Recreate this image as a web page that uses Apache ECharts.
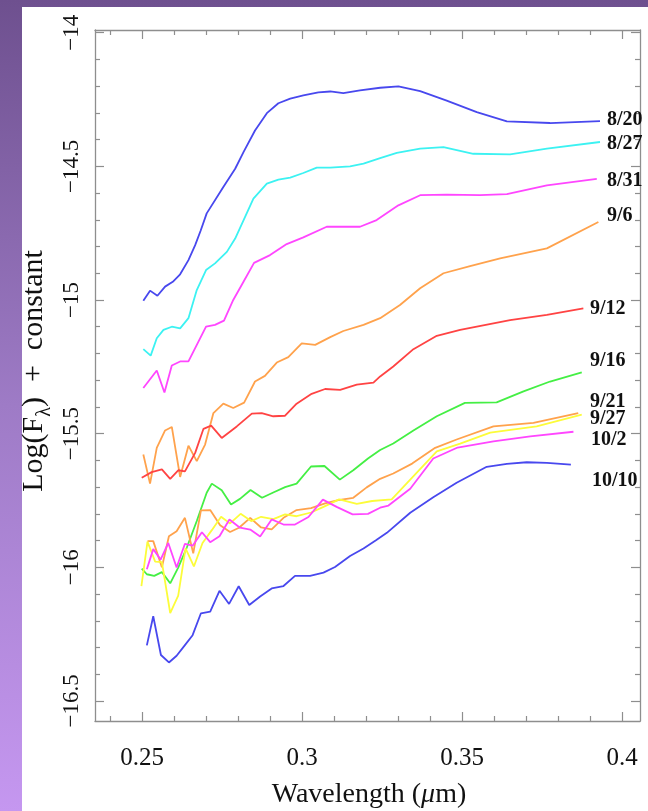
<!DOCTYPE html>
<html>
<head>
<meta charset="utf-8">
<script src="https://cdn.jsdelivr.net/npm/echarts@6/dist/echarts.min.js"></script>
<style>
  html, body { margin: 0; padding: 0; width: 648px; height: 811px; overflow: hidden; }
  body { position: relative; background: linear-gradient(180deg, #6e508f 0%, #9e7bc6 50%, #c597f0 100%); }
  #panel { position: absolute; left: 22px; top: 7px; right: 0; bottom: 0; background: #ffffff; }
  #chart { position: absolute; left: 0; top: 0; width: 648px; height: 811px; }
</style>
</head>
<body>
<div id="panel"></div>
<div id="chart"></div>
<script>
// Spectra: [wavelength (um), log flux + constant]
const aug20 = [[0.2504,-15.003],[0.2525,-14.965],[0.2548,-14.984],[0.2572,-14.950],[0.2596,-14.932],[0.2619,-14.904],[0.2645,-14.851],[0.2666,-14.795],[0.2683,-14.741],[0.2702,-14.676],[0.2754,-14.577],[0.2791,-14.509],[0.2817,-14.447],[0.2853,-14.366],[0.2890,-14.301],[0.2926,-14.264],[0.2963,-14.247],[0.3004,-14.235],[0.3051,-14.223],[0.3088,-14.220],[0.3129,-14.226],[0.3181,-14.216],[0.3244,-14.206],[0.3301,-14.201],[0.3369,-14.219],[0.3452,-14.254],[0.3546,-14.297],[0.3640,-14.332],[0.3775,-14.338],[0.3931,-14.331]];
const aug27 = [[0.2504,-15.184],[0.2527,-15.208],[0.2546,-15.143],[0.2567,-15.112],[0.2593,-15.100],[0.2619,-15.106],[0.2645,-15.068],[0.2671,-14.963],[0.2700,-14.888],[0.2728,-14.863],[0.2765,-14.820],[0.2791,-14.770],[0.2848,-14.621],[0.2890,-14.565],[0.2926,-14.550],[0.2963,-14.542],[0.3004,-14.525],[0.3046,-14.505],[0.3088,-14.505],[0.3150,-14.500],[0.3192,-14.490],[0.3244,-14.469],[0.3296,-14.450],[0.3369,-14.434],[0.3442,-14.428],[0.3535,-14.453],[0.3650,-14.455],[0.3765,-14.434],[0.3931,-14.409]];
const aug31 = [[0.2504,-15.329],[0.2546,-15.264],[0.2570,-15.346],[0.2593,-15.245],[0.2619,-15.230],[0.2645,-15.230],[0.2700,-15.100],[0.2728,-15.093],[0.2756,-15.077],[0.2785,-15.000],[0.2817,-14.932],[0.2850,-14.861],[0.2900,-14.832],[0.2952,-14.791],[0.3004,-14.766],[0.3077,-14.726],[0.3181,-14.726],[0.3233,-14.701],[0.3301,-14.646],[0.3369,-14.608],[0.3452,-14.606],[0.3556,-14.608],[0.3640,-14.604],[0.3765,-14.571],[0.3921,-14.547]];
const sep6 = [[0.2504,-15.578],[0.2525,-15.687],[0.2546,-15.553],[0.2572,-15.488],[0.2593,-15.475],[0.2619,-15.662],[0.2645,-15.545],[0.2671,-15.603],[0.2697,-15.541],[0.2723,-15.423],[0.2754,-15.388],[0.2785,-15.404],[0.2819,-15.384],[0.2853,-15.305],[0.2884,-15.284],[0.2921,-15.234],[0.2957,-15.214],[0.2999,-15.162],[0.3041,-15.168],[0.3088,-15.139],[0.3129,-15.116],[0.3192,-15.093],[0.3244,-15.068],[0.3306,-15.019],[0.3369,-14.956],[0.3442,-14.900],[0.3525,-14.873],[0.3619,-14.844],[0.3765,-14.807],[0.3926,-14.708]];
const sep12 = [[0.2499,-15.665],[0.2530,-15.644],[0.2562,-15.634],[0.2588,-15.669],[0.2613,-15.637],[0.2634,-15.641],[0.2666,-15.572],[0.2692,-15.482],[0.2716,-15.470],[0.2749,-15.516],[0.2796,-15.473],[0.2843,-15.425],[0.2874,-15.423],[0.2910,-15.435],[0.2947,-15.433],[0.2983,-15.388],[0.3030,-15.351],[0.3072,-15.333],[0.3119,-15.336],[0.3171,-15.317],[0.3223,-15.309],[0.3244,-15.286],[0.3285,-15.249],[0.3348,-15.184],[0.3421,-15.134],[0.3494,-15.112],[0.3650,-15.075],[0.3765,-15.056],[0.3879,-15.031]];
const sep16 = [[0.2499,-16.005],[0.2515,-16.026],[0.2538,-16.032],[0.2562,-16.018],[0.2588,-16.060],[0.2613,-16.001],[0.2640,-15.926],[0.2671,-15.827],[0.2702,-15.721],[0.2718,-15.687],[0.2749,-15.712],[0.2778,-15.765],[0.2806,-15.744],[0.2839,-15.711],[0.2875,-15.740],[0.2910,-15.720],[0.2947,-15.700],[0.2983,-15.687],[0.3028,-15.623],[0.3070,-15.621],[0.3118,-15.672],[0.3160,-15.637],[0.3206,-15.593],[0.3244,-15.561],[0.3285,-15.537],[0.3348,-15.488],[0.3421,-15.435],[0.3509,-15.385],[0.3608,-15.383],[0.3692,-15.342],[0.3775,-15.305],[0.3874,-15.271]];
const sep21 = [[0.2517,-15.902],[0.2535,-15.902],[0.2562,-16.000],[0.2584,-15.884],[0.2608,-15.865],[0.2634,-15.815],[0.2660,-15.948],[0.2684,-15.787],[0.2713,-15.786],[0.2744,-15.843],[0.2775,-15.868],[0.2803,-15.852],[0.2838,-15.815],[0.2872,-15.851],[0.2905,-15.858],[0.2942,-15.815],[0.2983,-15.786],[0.3028,-15.779],[0.3072,-15.761],[0.3113,-15.749],[0.3160,-15.740],[0.3202,-15.701],[0.3244,-15.669],[0.3285,-15.649],[0.3344,-15.612],[0.3416,-15.553],[0.3483,-15.522],[0.3598,-15.473],[0.3723,-15.460],[0.3863,-15.423]];
const sep27 = [[0.2498,-16.070],[0.2517,-15.904],[0.2541,-15.979],[0.2562,-15.981],[0.2588,-16.171],[0.2613,-16.106],[0.2636,-15.929],[0.2662,-15.997],[0.2689,-15.909],[0.2718,-15.861],[0.2747,-15.811],[0.2775,-15.836],[0.2808,-15.800],[0.2841,-15.827],[0.2872,-15.811],[0.2910,-15.820],[0.2947,-15.802],[0.2983,-15.809],[0.3028,-15.795],[0.3067,-15.774],[0.3116,-15.746],[0.3171,-15.763],[0.3219,-15.752],[0.3280,-15.746],[0.3338,-15.672],[0.3421,-15.566],[0.3494,-15.537],[0.3588,-15.496],[0.3733,-15.473],[0.3874,-15.429]];
const oct2 = [[0.2515,-16.007],[0.2535,-15.932],[0.2558,-15.971],[0.2582,-15.909],[0.2608,-16.001],[0.2634,-15.912],[0.2658,-15.919],[0.2687,-15.869],[0.2713,-15.906],[0.2742,-15.884],[0.2773,-15.821],[0.2806,-15.852],[0.2838,-15.859],[0.2869,-15.885],[0.2905,-15.821],[0.2942,-15.840],[0.2978,-15.840],[0.3020,-15.812],[0.3065,-15.747],[0.3108,-15.774],[0.3158,-15.802],[0.3206,-15.800],[0.3244,-15.777],[0.3270,-15.769],[0.3338,-15.706],[0.3410,-15.593],[0.3486,-15.552],[0.3598,-15.529],[0.3713,-15.510],[0.3848,-15.493]];
const oct10 = [[0.2515,-16.292],[0.2535,-16.183],[0.2559,-16.328],[0.2584,-16.356],[0.2608,-16.331],[0.2634,-16.291],[0.2658,-16.254],[0.2684,-16.172],[0.2713,-16.166],[0.2742,-16.088],[0.2772,-16.137],[0.2802,-16.071],[0.2835,-16.141],[0.2869,-16.109],[0.2905,-16.079],[0.2942,-16.070],[0.2978,-16.032],[0.3025,-16.032],[0.3067,-16.020],[0.3103,-15.999],[0.3150,-15.958],[0.3192,-15.930],[0.3231,-15.899],[0.3265,-15.871],[0.3338,-15.796],[0.3410,-15.738],[0.3483,-15.684],[0.3577,-15.624],[0.3640,-15.613],[0.3702,-15.607],[0.3765,-15.609],[0.3840,-15.616]];

const dates = ['8/20', '8/27', '8/31', '9/6', '9/12', '9/16', '9/21', '9/27', '10/2', '10/10'];
const spectra = [aug20, aug27, aug31, sep6, sep12, sep16, sep21, sep27, oct2, oct10];
const lineColors = ['#4848ee', '#3cf2f2', '#ff46ff', '#ffa24c', '#ff4343', '#44ef44', '#ffa24c', '#fcfc3a', '#ff46ff', '#4848ee'];

// Tick values
const xMajorTicks = [0.25, 0.3, 0.35, 0.4];
const xMinorTicks = [0.24, 0.26, 0.27, 0.28, 0.29, 0.31, 0.32, 0.33, 0.34, 0.36, 0.37, 0.38, 0.39];
const yMajorTicks = [-16.5, -16, -15.5, -15, -14.5, -14];
const yMinorTicks = [-16.4, -16.3, -16.2, -16.1, -15.9, -15.8, -15.7, -15.6, -15.4, -15.3, -15.2, -15.1,
                     -14.9, -14.8, -14.7, -14.6, -14.4, -14.3, -14.2, -14.1];

// Label anchors for each date (left edge x, centre y in px)
const labelSpots = [[607,120],[607,144],[607,181],[607,216],[590,309],[590,361],[590,402],[590,419],[591,440],[592,481]];

const X_MIN = 0.2353, X_MAX = 0.4056;
const Y_MIN = -16.575, Y_MAX = -13.99;
const FRAME = '#8e8e8e';
const SERIF = '"Liberation Serif", "DejaVu Serif", serif';
const INK = '#111111';

function minusFmt(v) {
  const s = String(Math.round(v * 100) / 100);
  return s.replace('-', '\u2212');
}

function xAxisDef(position, ticks, len, withLabels, withLine) {
  return {
    type: 'value', position: position, min: X_MIN, max: X_MAX,
    axisLine: { show: withLine, onZero: false, lineStyle: { color: FRAME, width: 1.3 } },
    axisTick: { show: true, inside: true, length: len, customValues: ticks, lineStyle: { color: FRAME, width: 1.2 } },
    axisLabel: withLabels
      ? { show: true, customValues: ticks, margin: 25, color: INK, fontSize: 25, fontFamily: SERIF }
      : { show: false },
    splitLine: { show: false }
  };
}

function yAxisDef(position, ticks, len, withLabels, withLine) {
  return {
    type: 'value', position: position, min: Y_MIN, max: Y_MAX,
    axisLine: { show: withLine, onZero: false, lineStyle: { color: FRAME, width: 1.3 } },
    axisTick: { show: true, inside: true, length: len, customValues: ticks, lineStyle: { color: FRAME, width: 1.2 } },
    axisLabel: withLabels
      ? { show: true, customValues: ticks, rotate: 90, margin: 12, color: INK, fontSize: 23, fontFamily: SERIF, formatter: minusFmt }
      : { show: false },
    splitLine: { show: false }
  };
}

const chart = echarts.init(document.getElementById('chart'), null, { renderer: 'canvas' });

const graphics = [
  {
    type: 'text', x: 369, y: 795, z: 10,
    style: {
      text: '{n|Wavelength (}{i|\u03bc}{n|m)}',
      align: 'center', verticalAlign: 'middle',
      rich: {
        n: { fontSize: 28, fontFamily: SERIF, fill: INK },
        i: { fontSize: 28, fontFamily: SERIF, fontStyle: 'italic', fill: INK }
      }
    }
  },
  {
    type: 'text', x: 34, y: 371, rotation: Math.PI / 2, z: 10,
    style: {
      text: '{a|Log(F}{s|\u03bb}{a|)  +  constant}',
      align: 'center', verticalAlign: 'middle',
      rich: {
        a: { fontSize: 30, lineHeight: 42, fontFamily: SERIF, fill: INK },
        s: { fontSize: 20, lineHeight: 20, fontFamily: SERIF, fill: INK, verticalAlign: 'bottom' }
      }
    }
  }
];
dates.forEach(function (d, i) {
  graphics.push({
    type: 'text', x: labelSpots[i][0], y: labelSpots[i][1], z: 10,
    style: { text: d, align: 'left', verticalAlign: 'middle', fontSize: 20, fontWeight: 'bold', fontFamily: SERIF, fill: INK }
  });
});

chart.setOption({
  backgroundColor: 'transparent',
  animation: false,
  grid: { left: 95, top: 30, width: 545, height: 691, containLabel: false },
  xAxis: [
    xAxisDef('bottom', xMajorTicks, 9, true, true),
    xAxisDef('bottom', xMinorTicks, 5, false, false),
    xAxisDef('top', xMajorTicks, 9, false, true),
    xAxisDef('top', xMinorTicks, 5, false, false)
  ],
  yAxis: [
    yAxisDef('left', yMajorTicks, 9, true, true),
    yAxisDef('left', yMinorTicks, 5, false, false),
    yAxisDef('right', yMajorTicks, 9, false, true),
    yAxisDef('right', yMinorTicks, 5, false, false)
  ],
  series: spectra.map(function (s, i) {
    return {
      name: dates[i], type: 'line', xAxisIndex: 0, yAxisIndex: 0,
      data: s, showSymbol: false, symbol: 'none', smooth: false,
      lineStyle: { color: lineColors[i], width: 1.8 },
      emphasis: { disabled: true }
    };
  }),
  graphic: graphics
});
</script>
</body>
</html>
